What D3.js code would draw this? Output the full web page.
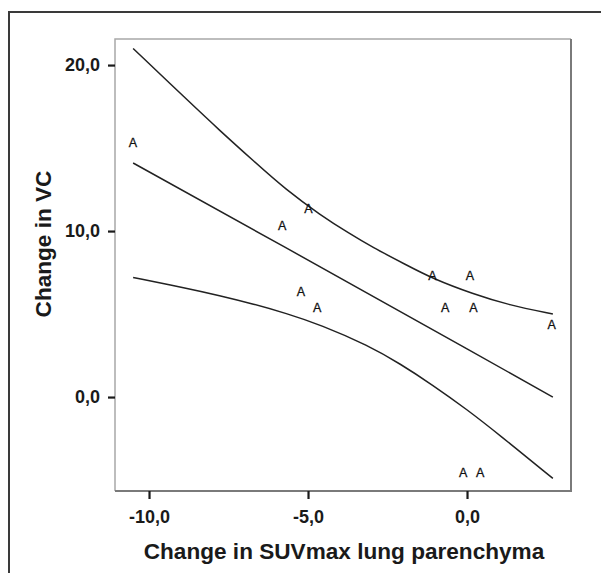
<!DOCTYPE html>
<html>
<head>
<meta charset="utf-8">
<script src="https://cdn.jsdelivr.net/npm/d3@7"></script>
<style>
  body { margin: 0; background: #fff; }
  svg { display: block; }
</style>
</head>
<body>
<script>
// scatter of the 12 cases, each drawn as the letter "A"
const pointX = [-10.51, -4.99, -5.81, -5.22, -4.71, -1.09, 0.09, -0.69, 0.20, 2.66, -0.12, 0.41]
const pointY = [15.32, 11.37, 10.32, 6.34, 5.38, 7.35, 7.35, 5.40, 5.40, 4.37, -4.56, -4.56]

// fitted line and its two confidence curves
const fitX = [-10.5, -5.7, 0, 2.7]
const fitY = [14.1, 9.0, 2.9, 0.0]
const upperX = [-10.5, -8.8, -7.8, -6.7, -5.7, -4.6, -3.7, -3.0, -1.9, -1.1, 0.2, 1.3, 2.7]
const upperY = [21.0, 17.9, 16.1, 14.2, 12.5, 10.95, 9.85, 9.05, 7.95, 7.15, 6.2, 5.55, 5.0]
const lowerX = [-10.5, -8.8, -7.8, -6.7, -5.7, -4.6, -3.1, -2.1, -1.1, 0, 1.0, 2.7]
const lowerY = [7.2, 6.55, 6.12, 5.6, 5.05, 4.35, 3.1, 2.0, 0.75, -0.75, -2.25, -4.9]

const xTicks = [-10, -5, 0]
const yTicks = [0, 10, 20]
const xTitle = 'Change in SUVmax lung parenchyma'
const yTitle = 'Change in VC'

const frame = {
  width: 601,
  height: 573,
  left: 115,
  top: 39,
  right: 571,
  bottom: 491
}

// comma as decimal mark, plain hyphen as minus
const locale = d3.formatLocale({ decimal: ',', thousands: '.', grouping: [3], currency: ['', ''], minus: '-' })
const fmt = locale.format('.1f')

const svg = d3.select('body').append('svg')
  .attr('width', frame.width)
  .attr('height', frame.height)
  .style('font-family', '"Liberation Sans", Arial, sans-serif')

// outer border of the figure (runs off the right and bottom edges)
svg.append('rect')
  .attr('x', 9).attr('y', 12)
  .attr('width', 700).attr('height', 700)
  .attr('fill', 'none')
  .attr('stroke', '#3a3a3a')
  .attr('stroke-width', 2)

const x = d3.scaleLinear().domain([-11.07, 3.27]).range([frame.left, frame.right])
const y = d3.scaleLinear().domain([-5.66, 21.57]).range([frame.bottom, frame.top])

// plot box: light top/left, darker right/bottom
svg.append('path')
  .attr('d', `M${frame.left},${frame.bottom} V${frame.top} H${frame.right}`)
  .attr('fill', 'none').attr('stroke', '#a8a8a8').attr('stroke-width', 1.5)
svg.append('path')
  .attr('d', `M${frame.right},${frame.top} V${frame.bottom} H${frame.left}`)
  .attr('fill', 'none').attr('stroke', '#7a7a7a').attr('stroke-width', 2)

// axes
const xAxis = svg.append('g')
  .attr('transform', `translate(0,${frame.bottom})`)
  .call(d3.axisBottom(x).tickValues(xTicks).tickFormat(fmt).tickSizeInner(8).tickSizeOuter(0).tickPadding(11))
const yAxis = svg.append('g')
  .attr('transform', `translate(${frame.left},0)`)
  .call(d3.axisLeft(y).tickValues(yTicks).tickFormat(fmt).tickSizeInner(7).tickSizeOuter(0).tickPadding(8))

;[xAxis, yAxis].forEach(g => {
  g.select('.domain').remove()
  g.selectAll('.tick line').attr('stroke', '#1a1a1a').attr('stroke-width', 2.2)
  g.selectAll('.tick text')
    .attr('fill', '#1a1a1a')
    .style('font-size', '18px')
    .style('font-weight', 'bold')
    .style('font-family', '"Liberation Sans", Arial, sans-serif')
})

// axis titles
svg.append('text')
  .attr('x', (frame.left + frame.right) / 2 + 1)
  .attr('y', 559)
  .attr('text-anchor', 'middle')
  .attr('fill', '#1a1a1a')
  .style('font-size', '22.6px')
  .style('font-weight', 'bold')
  .text(xTitle)

svg.append('text')
  .attr('transform', 'translate(51,244) rotate(-90)')
  .attr('text-anchor', 'middle')
  .attr('fill', '#1a1a1a')
  .style('font-size', '22.6px')
  .style('font-weight', 'bold')
  .text(yTitle)

// lines
const line = d3.line().x(d => x(d[0])).y(d => y(d[1]))
const curve = d3.line().x(d => x(d[0])).y(d => y(d[1])).curve(d3.curveBasis)

const series = [
  { xs: fitX, ys: fitY, gen: line },
  { xs: upperX, ys: upperY, gen: curve },
  { xs: lowerX, ys: lowerY, gen: curve }
]
series.forEach(s => {
  svg.append('path')
    .datum(s.xs.map((v, i) => [v, s.ys[i]]))
    .attr('d', s.gen)
    .attr('fill', 'none')
    .attr('stroke', '#222')
    .attr('stroke-width', 1.5)
})

// markers
svg.append('g').selectAll('text')
  .data(pointX.map((v, i) => [v, pointY[i]]))
  .join('text')
  .attr('x', d => x(d[0]))
  .attr('y', d => y(d[1]))
  .attr('dy', '0.36em')
  .attr('text-anchor', 'middle')
  .attr('fill', '#111')
  .attr('stroke', '#111')
  .attr('stroke-width', 0.3)
  .style('font-size', '12.5px')
  .text('A')
</script>
</body>
</html>
